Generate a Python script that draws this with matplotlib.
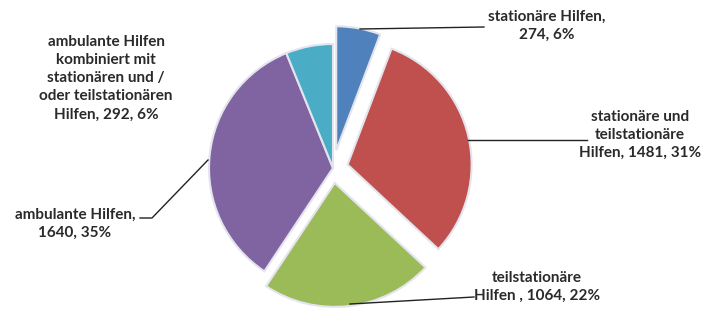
import numpy as np
import matplotlib.pyplot as plt

W, H = 719, 311

kategorien = ["stationäre Hilfen",
              "stationäre und teilstationäre Hilfen",
              "teilstationäre Hilfen",
              "ambulante Hilfen",
              "ambulante Hilfen kombiniert mit stationären und / oder teilstationären Hilfen"]
anzahl = [274, 1481, 1064, 1640, 292]
prozent = [6, 31, 22, 35, 6]
farben = ["#4F81BD", "#C0504D", "#9BBB59", "#8064A2", "#4BACC6"]
explode = [18, 15, 15, 0, 0]  # px, pie offsets are absolute

plt.rcParams['font.family'] = ['Lato', 'DejaVu Sans']

fig = plt.figure(figsize=(W / 100, H / 100), dpi=100)
ax = fig.add_axes([0, 0, 1, 1])

cx, cy, r = 333, H - 168, 124
wedges, _ = ax.pie(anzahl, colors=farben, explode=explode, startangle=90,
                   counterclock=False, center=(cx, cy), radius=r,
                   wedgeprops=dict(edgecolor='#e4e4ee', linewidth=1.5),
                   frame=True)
ax.set_xlim(0, W)
ax.set_ylim(0, H)
ax.set_aspect('equal')
ax.axis('off')

texte = [
    f"stationäre Hilfen,\n{anzahl[0]}, {prozent[0]}%",
    f"stationäre und\nteilstationäre\nHilfen, {anzahl[1]}, {prozent[1]}%",
    f"teilstationäre\nHilfen , {anzahl[2]}, {prozent[2]}%",
    f"ambulante Hilfen,\n{anzahl[3]}, {prozent[3]}%",
    f"ambulante Hilfen\nkombiniert mit\nstationären und /\noder teilstationären\nHilfen, {anzahl[4]}, {prozent[4]}%",
]

# label positions (pixel coords, top-left origin) and leader lines
layout = [
    dict(txt=(547, 26), line=[(360, 29), (484, 27)]),
    dict(txt=(640, 135), line=[(468, 140), (587, 140)]),
    dict(txt=(537, 287), line=[(350, 304), (474, 297)]),
    dict(txt=(75, 224), line=[(140, 218), (152, 218), (208, 160)]),
    dict(txt=(106, 78), line=None),
]

for t, lay in zip(texte, layout):
    x, y = lay['txt']
    ax.text(x, H - y, t, ha='center', va='center', fontsize=11,
            fontweight='bold', color='#2a2a2a', linespacing=1.38)
    if lay['line']:
        xs = [p[0] for p in lay['line']]
        ys = [H - p[1] for p in lay['line']]
        ax.plot(xs, ys, color='#222222', lw=1)

fig.savefig("out.png", dpi=100, facecolor='white')
